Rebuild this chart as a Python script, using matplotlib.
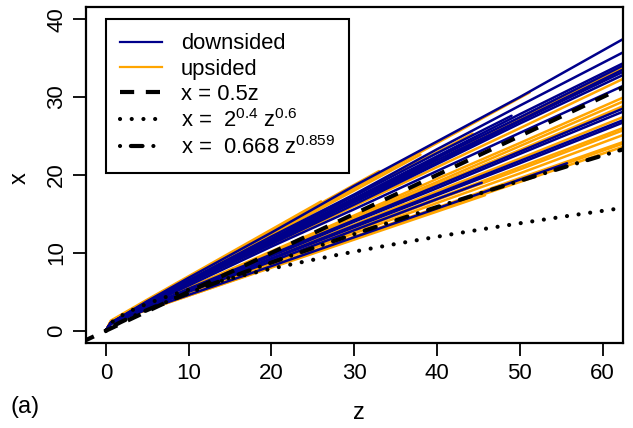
import matplotlib
matplotlib.use("Agg")
import matplotlib.pyplot as plt
from matplotlib.lines import Line2D
import numpy as np

plt.rcParams['font.family'] = ['Liberation Sans', 'DejaVu Sans']
plt.rcParams['mathtext.fontset'] = 'custom'
plt.rcParams['mathtext.rm'] = 'Liberation Sans'
plt.rcParams['mathtext.it'] = 'Liberation Sans'
plt.rcParams['mathtext.bf'] = 'Liberation Sans:bold'

# ---------------- data ----------------
Z9 = [0, 0.6, 5, 10, 20, 30, 40, 50, 62.4]

# downsided (blue) trajectories: (z values, x values)
down_z = [
    Z9, Z9, Z9, Z9, Z9, Z9, Z9, Z9,
    [0, 0.6, 5, 10, 20, 30, 40, 49],
    [0, 0.6, 5, 10, 20, 30, 40],
    Z9, Z9, Z9, Z9,
    [0, 0.6, 5, 10, 20, 30, 40, 50, 55.7],
    [0, 0.6, 5, 10, 20, 30, 40, 45.4],
]
down_x = [
    [0, 1.0, 3.8, 6.8, 12.6, 18.6, 24.3, 30.0, 37.4],
    [0, 1.0, 3.7, 6.5, 12.1, 17.5, 23.3, 28.9, 35.7],
    [0, 0.9, 3.6, 6.3, 11.6, 17.0, 22.4, 27.8, 34.3],
    [0, 1.0, 3.5, 6.3, 11.5, 16.7, 22.2, 27.4, 34.0],
    [0, 0.9, 3.5, 6.1, 11.3, 16.5, 21.6, 26.9, 33.2],
    [0, 1.0, 3.45, 6.1, 11.1, 16.2, 21.4, 26.6, 32.8],
    [0, 0.9, 3.3, 5.8, 10.8, 15.6, 20.5, 25.4, 31.4],
    [0, 1.0, 3.5, 6.2, 11.4, 16.6, 21.9, 27.0, 33.5],
    [0, 1.0, 3.6, 6.4, 11.8, 17.3, 22.8, 27.6],
    [0, 1.0, 3.5, 6.2, 11.5, 16.8, 22.0],
    [0, 0.9, 3.1, 5.4, 9.8, 14.2, 18.6, 23.0, 28.5],
    [0, 1.0, 3.1, 5.3, 9.6, 14.0, 18.3, 22.7, 28.1],
    [0, 0.9, 3.0, 5.1, 9.3, 13.5, 17.6, 21.8, 27.0],
    [0, 1.0, 3.0, 5.1, 9.2, 13.3, 17.4, 21.5, 26.7],
    [0, 0.9, 2.75, 4.6, 8.3, 12.0, 15.7, 19.4, 21.5],
    [0, 1.0, 2.9, 5.0, 8.9, 12.9, 16.9, 19.0],
]

# upsided (orange) trajectories
up_z = [
    Z9, Z9,
    [0, 0.6, 5, 10, 20, 30, 40, 51.2],
    [0, 0.6, 5, 10, 20, 30, 44.3],
    [0, 0.6, 5, 10, 20, 25, 33],
    [0, 0.6, 5, 10, 15, 22, 28],
    [0, 0.6, 5, 10, 20, 30, 38],
    [0, 0.6, 5, 10, 20, 26],
    Z9, Z9, Z9, Z9, Z9, Z9, Z9, Z9, Z9, Z9,
    [0, 0.6, 5, 10, 20, 30, 40, 45.8],
    [0, 0.6, 5, 10, 20, 30, 36],
]
up_x = [
    [0, 1.1, 3.5, 6.2, 11.4, 16.7, 21.9, 27.2, 33.7],
    [0, 1.0, 3.4, 6.0, 11.0, 16.0, 21.0, 26.0, 32.3],
    [0, 1.1, 3.8, 6.7, 12.5, 18.3, 24.1, 30.6],
    [0, 1.1, 3.7, 6.4, 11.9, 17.4, 25.3],
    [0, 1.2, 3.9, 6.9, 12.8, 15.8, 20.5],
    [0, 1.2, 3.8, 6.7, 9.5, 13.6, 17.0],
    [0, 1.1, 3.8, 6.6, 12.3, 18.0, 22.6],
    [0, 1.3, 4.0, 7.0, 13.0, 16.6],
    [0, 1.0, 3.2, 5.5, 10.2, 14.8, 19.5, 24.1, 29.9],
    [0, 1.1, 3.2, 5.5, 10.0, 14.6, 19.1, 23.7, 29.4],
    [0, 1.0, 3.1, 5.4, 9.8, 14.3, 18.8, 23.2, 28.8],
    [0, 1.1, 3.0, 5.2, 9.4, 13.6, 17.9, 22.1, 27.4],
    [0, 1.0, 2.9, 5.0, 9.0, 13.0, 17.0, 21.0, 26.0],
    [0, 1.1, 2.9, 4.9, 8.9, 12.8, 16.8, 20.7, 25.7],
    [0, 1.0, 2.8, 4.8, 8.7, 12.5, 16.4, 20.2, 25.1],
    [0, 1.1, 2.8, 4.6, 8.4, 12.1, 15.8, 19.6, 24.2],
    [0, 1.0, 2.75, 4.6, 8.3, 12.0, 15.7, 19.4, 24.0],
    [0, 1.1, 2.7, 4.5, 8.2, 11.8, 15.5, 19.1, 23.6],
    [0, 1.0, 2.7, 4.5, 8.1, 11.7, 15.3, 17.4],
    [0, 1.1, 3.0, 5.1, 9.3, 13.6, 16.2],
]

# reference curves given in the legend: x = c * z^p
ref_labels = ["x = 0.5z", r"x =  $2^{0.4}$ z$^{0.6}$", r"x =  0.668 z$^{0.859}$"]
ref_coef = [0.5, 2 ** 0.4, 0.668]
ref_pow = [1.0, 0.6, 0.859]
ref_zstart = [-3.0, 0.0, 0.0]

x_ticks = [0, 10, 20, 30, 40, 50, 60]
y_ticks = [0, 10, 20, 30, 40]

BLUE = "#00008B"
ORANGE = "#FFA500"

# ---------------- figure ----------------
fig = plt.figure(figsize=(6.33, 4.28), dpi=100)
W, H = 633, 428
L, R, T, B = 86, 622.5, 6.7, 343.2
ax = fig.add_axes([L / W, (H - B) / H, (R - L) / W, (B - T) / H])

for zs, xs in zip(up_z, up_x):
    ax.plot(zs, xs, color=ORANGE, lw=1.8, solid_capstyle='round')
for zs, xs in zip(down_z, down_x):
    ax.plot(zs, xs, color=BLUE, lw=1.8, solid_capstyle='round')

styles = [
    dict(dashes=(3.4, 2.8)),
    dict(dashes=(0.01, 2.8), dash_capstyle='round'),
    dict(dashes=(0.01, 2.6, 2.8, 2.6), dash_capstyle='round'),
]
for c, p, z0, st in zip(ref_coef, ref_pow, ref_zstart, styles):
    zz = np.linspace(z0, 64, 400)
    if p == 1.0:
        xx = c * zz
    else:
        xx = c * np.clip(zz, 0, None) ** p
    ax.plot(zz, xx, color='black', lw=3, **st)

ax.set_xlim(-2.4, 62.4)
ax.set_ylim(-1.6, 41.6)
ax.set_xticks(x_ticks)
ax.set_yticks(y_ticks)
ax.tick_params(length=9.5, width=1.3, labelsize=16, direction='out')
ax.tick_params(axis='x', pad=5)
ax.tick_params(axis='y', pad=4)
for lab in ax.get_yticklabels():
    lab.set_rotation(90)
    lab.set_va('center')
for s in ax.spines.values():
    s.set_linewidth(1.6)

# legend
handles = [
    Line2D([], [], color=BLUE, lw=1.6),
    Line2D([], [], color=ORANGE, lw=1.6),
    Line2D([], [], color='black', lw=3, dashes=(3.4, 2.8)),
    Line2D([], [], color='black', lw=3, dashes=(0.01, 2.8), dash_capstyle='round'),
    Line2D([], [], color='black', lw=3, dashes=(0.01, 2.6, 2.8, 2.6), dash_capstyle='round'),
]
labels = ["downsided", "upsided"] + ref_labels
leg = ax.legend(handles, labels, loc='upper left',
                bbox_to_anchor=((106 - L) / (R - L), (B - 19) / (B - T)),
                borderaxespad=0, fontsize=15.8, frameon=True, fancybox=False,
                handlelength=1.9, handletextpad=0.85, borderpad=0.66,
                labelspacing=0.19)
leg.get_frame().set_edgecolor('black')
leg.get_frame().set_linewidth(1.5)
leg.get_frame().set_alpha(1)

fig.text(359 / W, 1 - 413 / H, "z", ha='center', va='center', fontsize=17)
fig.text(20 / W, 1 - 178 / H, "x", ha='center', va='center', fontsize=17, rotation=90)
fig.text(25 / W, 1 - 407 / H, "(a)", ha='center', va='center', fontsize=17)

fig.savefig("out.png", dpi=100)
